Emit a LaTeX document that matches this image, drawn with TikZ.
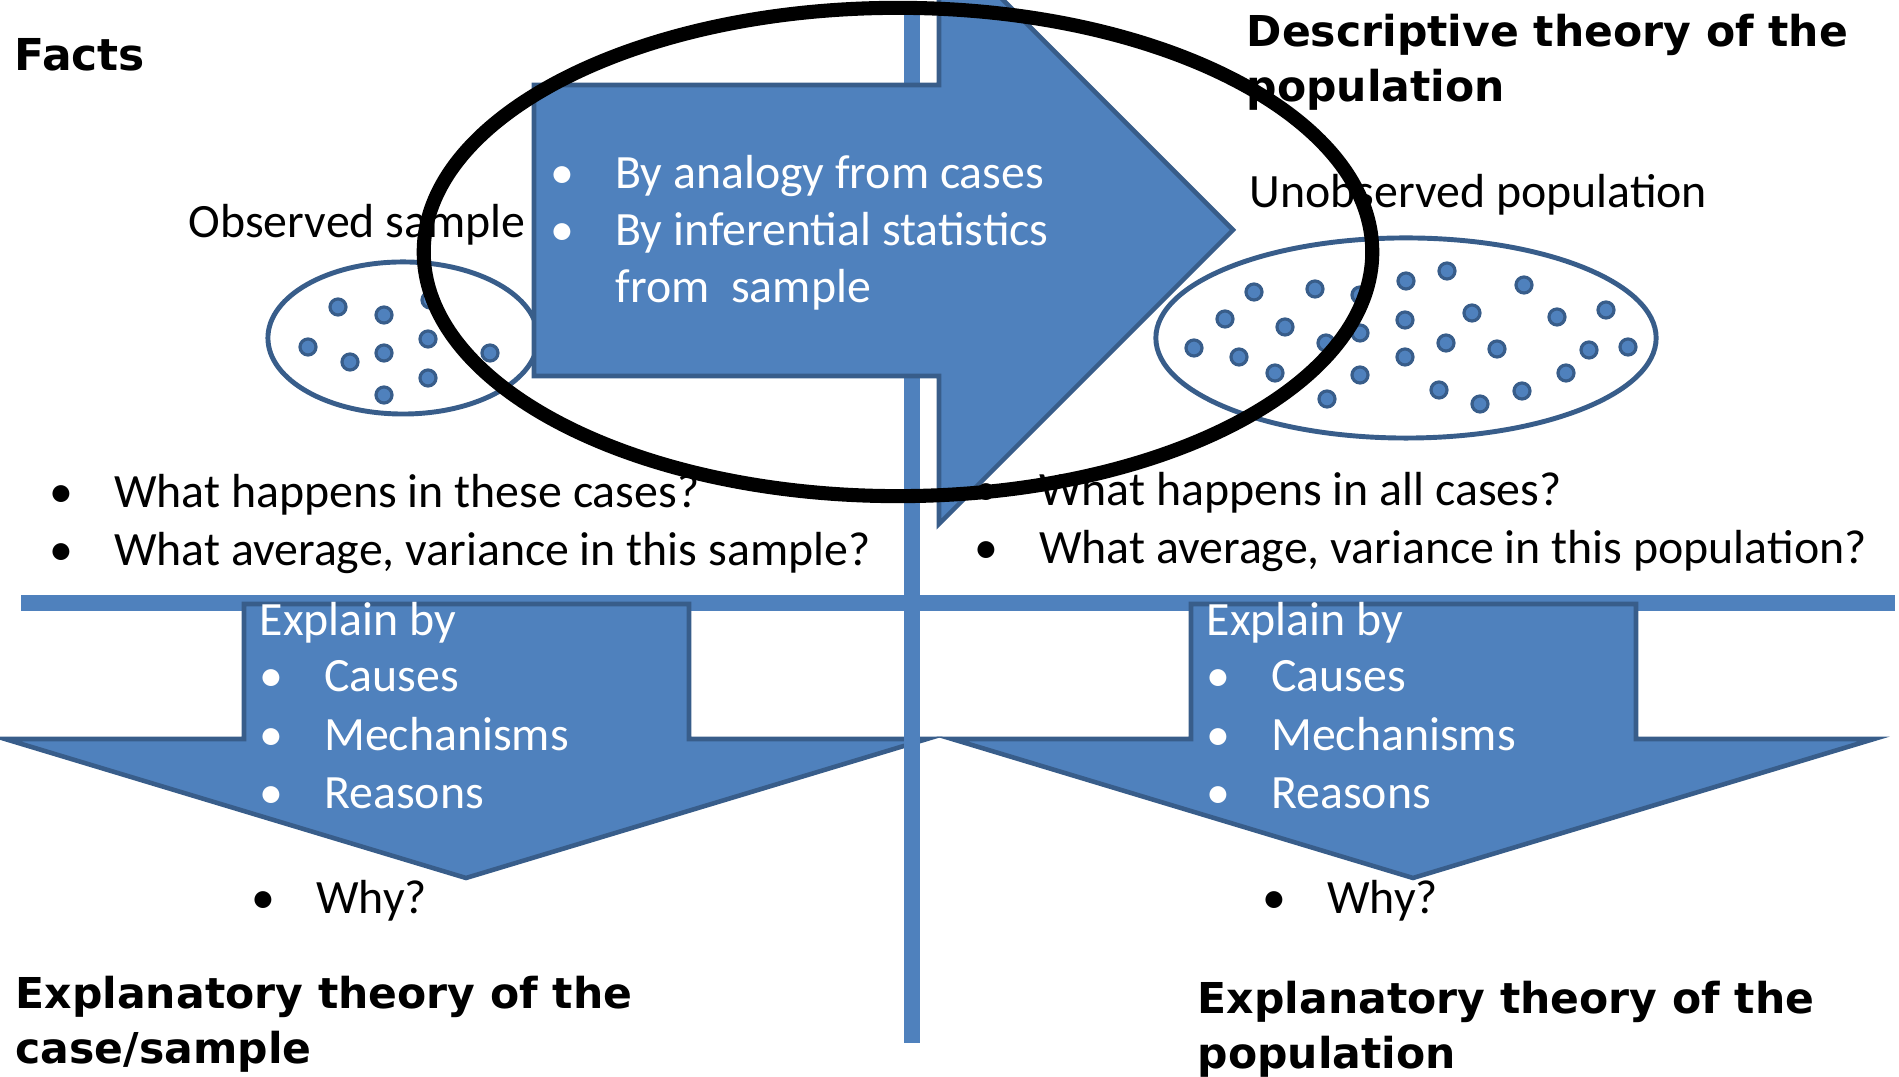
\documentclass[tikz,border=0pt]{standalone}
\usepackage{fontspec}
\setmainfont{Carlito}
\newfontfamily\headfont{DejaVu Sans}
\definecolor{fillblue}{HTML}{4F81BD}
\definecolor{edgeblue}{HTML}{385D8A}
\newcommand{\itm}[1]{\makebox[0.645cm][l]{\textbullet}#1}
\tikzset{
	txt/.style={anchor=base west, inner sep=0pt, font=\fontsize{13.6}{16}\selectfont},
	wtxt/.style={txt, text=white},
	heading/.style={anchor=base west, inner sep=0pt, font=\headfont\bfseries\fontsize{12.1}{14}\selectfont},
	bigarrow/.style={fill=fillblue, draw=edgeblue, line width=1.3pt, line join=miter},
	dotpt/.style={fill=fillblue, draw=edgeblue, line width=0.9pt},
	crossbar/.style={draw=fillblue, line width=4.7pt},
}

\begin{document}
\begin{tikzpicture}[x=0.01cm, y=-0.01cm]
		\useasboundingbox (0,0) rectangle (1899,1077);
		\clip (0,0) rectangle (1899,1077);
		
		%horizontal part of the cross
		\draw[crossbar] (21,603) -- (1895,603);
		
		%the two down arrows (explanation of the sample / of the population)
		\draw[bigarrow] (244,604) -- (689,604) -- (689,739) -- (927,739) -- (466,878) -- (5,739) -- (244,739) -- cycle;
		\draw[bigarrow] (1191,604) -- (1636,604) -- (1636,739) -- (1874,739) -- (1413,878) -- (952,739) -- (1191,739) -- cycle;
		
		%vertical part of the cross
		\draw[crossbar] (912,15) -- (912,1043);
		
		%the observed sample with its cases
		\draw[edgeblue, line width=1.4pt] (403,338) ellipse (1.35cm and 0.76cm);
		\foreach \x/\y in {338/307, 384/315, 430/300, 308/347, 350/362, 384/353, 428/339, 490/353, 428/378, 384/395}
			\draw[dotpt] (\x,\y) circle (0.08cm);
		
		%the big arrow from sample to population, head runs off the top
		\draw[bigarrow] (534,85) -- (939,85) -- (939,-64) -- (1233,230) -- (939,524) -- (939,376) -- (534,376) -- cycle;
		
		%the unobserved population
		\draw[edgeblue, line width=1.4pt] (1406,338) ellipse (2.5cm and 1cm);
		\foreach \x/\y in {1254/292, 1315/289, 1360/295, 1406/281, 1447/271, 1524/285,
			1225/319, 1285/327, 1405/320, 1472/313, 1557/317, 1606/310,
			1194/348, 1239/357, 1326/343, 1360/333, 1446/343, 1497/349, 1589/350, 1628/347,
			1405/357, 1275/373, 1360/375, 1566/373, 1327/399, 1439/390, 1480/404, 1522/391}
			\draw[dotpt] (\x,\y) circle (0.08cm);
		
		%headings of the four quadrants
		\node[heading, font=\headfont\bfseries\fontsize{12.5}{15}\selectfont] (facts) at (14,71) {Facts};
		\node[heading] (desc1) at (1246,47) {Descriptive theory of the};
		\node[heading] (desc2) at (1246,102) {population};
		\node[heading] (lth1) at (15,1009) {Explanatory theory of the};
		\node[heading] (lth2) at (15,1064) {case/sample};
		\node[heading] (rth1) at (1197,1014) {Explanatory theory of the};
		\node[heading] (rth2) at (1197,1069) {population};
		
		%labels of the two ellipses
		\node[txt] (obs) at (188,238) {Observed sample};
		\node[txt] (unobs) at (1249,208) {Unobserved population};
		
		%questions under the ellipses
		\foreach \t [count=\i] in {What happens in these cases?, {What average, variance in this sample?}}
			\node[txt] (lq\i) at (49,450+58*\i) {\itm{\t}};
		\foreach \t [count=\i] in {What happens in all cases?, {What average, variance in this population?}}
			\node[txt] (rq\i) at (974,448+58*\i) {\itm{\t}};
		
		%text inside the big arrow
		\node[wtxt] (by1) at (550,189) {\itm{By analogy from cases}};
		\node[wtxt] (by2) at (550,246) {\itm{By inferential statistics}};
		\node[wtxt] (by3) at (615,303) {from~~sample};
		
		%text inside the down arrows
		\node[wtxt] (lexp) at (259,636) {Explain by};
		\node[wtxt] (rexp) at (1206,636) {Explain by};
		\foreach \t [count=\i] in {Causes, Mechanisms, Reasons} {
			\node[wtxt] (lc\i) at (259,633.5+58.5*\i) {\itm{\t}};
			\node[wtxt] (rc\i) at (1206,633.5+58.5*\i) {\itm{\t}};
		}
		\node[txt] (lwhy) at (251,914) {\itm{Why?}};
		\node[txt] (rwhy) at (1262,914) {\itm{Why?}};
		
		%the black ring drawn over everything
		\draw[black, line width=4pt] (898,252) ellipse (4.74cm and 2.44cm);
	\end{tikzpicture}
\end{document}
